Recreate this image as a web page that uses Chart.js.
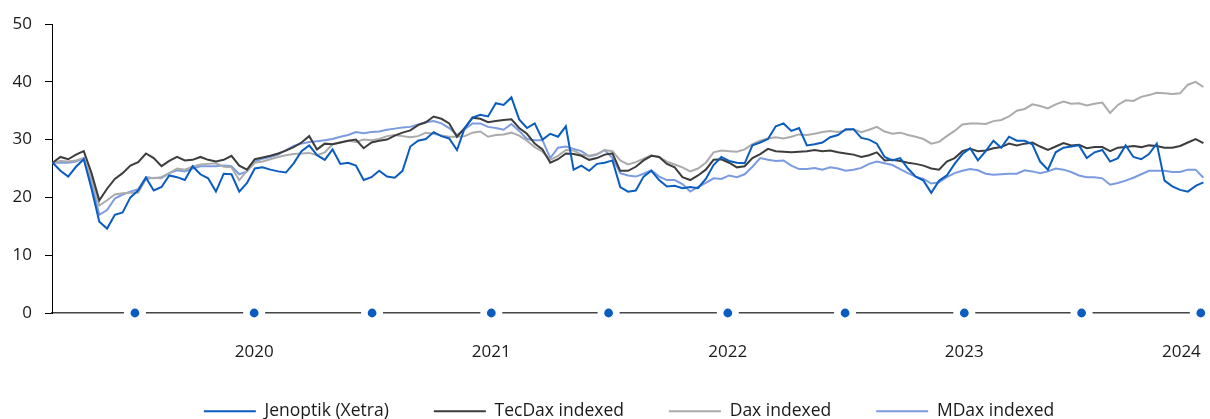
<!DOCTYPE html>
<html>
<head>
<meta charset="utf-8">
<title>Jenoptik vs. indices</title>
<script src="https://cdn.jsdelivr.net/npm/chart.js@4.4.0/dist/chart.umd.min.js"></script>
<style>
  html, body { margin: 0; padding: 0; background: #ffffff; overflow: hidden; }
  #wrap { width: 1210px; height: 419px; overflow: hidden; }
  canvas { display: block; }
</style>
</head>
<body>
<div id="wrap"><canvas id="chart" width="1210" height="430"></canvas></div>
<script>
// Series names as shown in the legend
const seriesNames = ['Jenoptik (Xetra)', 'TecDax indexed', 'Dax indexed', 'MDax indexed'];

// Observations every 12 days, starting 24 Feb 2019
const firstObservation = '2019-02-24';
const stepDays = 12;

// Half-year markers on the time axis (labels on 1 January)
const halfYears = ['2019-07-01', '2020-01-01', '2020-07-01', '2021-01-01', '2021-07-01',
                   '2022-01-01', '2022-07-01', '2023-01-01', '2023-07-01', '2024-01-01'];

const yTicks = [0, 10, 20, 30, 40, 50];

const jenoptik = [
  26.0, 24.6, 23.6, 25.3, 26.6, 21.5, 15.8, 14.6, 17.0, 17.4,
  20.0, 21.2, 23.4, 21.2, 21.8, 23.8, 23.5, 23.0, 25.4, 24.0,
  23.3, 21.0, 24.1, 24.0, 21.0, 22.5, 25.0, 25.2, 24.8, 24.5,
  24.3, 25.9, 28.0, 29.0, 27.3, 26.5, 28.3, 25.8, 26.0, 25.5,
  23.0, 23.5, 24.6, 23.6, 23.4, 24.6, 28.8, 29.8, 30.1, 31.3,
  30.6, 30.2, 28.2, 32.0, 33.8, 34.3, 34.0, 36.3, 36.0, 37.3,
  33.5, 32.0, 32.8, 30.0, 31.0, 30.5, 32.3, 24.8, 25.5, 24.6,
  25.8, 26.0, 26.4, 21.8, 21.0, 21.2, 23.6, 24.6, 23.0, 21.9,
  22.0, 21.6, 21.8, 21.6, 23.2, 25.6, 27.0, 26.3, 26.0, 25.9,
  29.0, 29.5, 30.1, 32.3, 32.8, 31.5, 32.0, 29.0, 29.2, 29.5,
  30.4, 30.8, 31.8, 31.8, 30.3, 30.0, 29.3, 27.0, 26.4, 26.8,
  25.0, 23.6, 22.9, 20.8, 22.9, 23.8, 25.8, 27.5, 28.5, 26.4,
  28.0, 29.8, 28.6, 30.5, 29.8, 29.8, 29.2, 26.2, 24.8, 27.8,
  28.6, 28.8, 29.0, 26.8, 27.8, 28.2, 26.2, 26.8, 29.0, 27.0,
  26.6, 27.5, 29.3, 22.9, 21.9, 21.3, 21.0, 22.0, 22.6
];

const tecDax = [
  26.0, 27.0, 26.6, 27.4, 28.0, 24.2, 19.5, 21.5, 23.2, 24.2,
  25.5, 26.1, 27.6, 26.8, 25.4, 26.3, 27.0, 26.4, 26.5, 27.0,
  26.5, 26.2, 26.5, 27.2, 25.5, 24.8, 26.6, 26.9, 27.2, 27.6,
  28.1, 28.7, 29.5, 30.6, 28.3, 29.3, 29.2, 29.5, 29.8, 30.0,
  28.5, 29.5, 29.8, 30.0, 30.7, 31.2, 31.6, 32.5, 33.0, 34.0,
  33.6, 32.8, 30.5, 32.0, 33.8, 33.6, 33.0, 33.2, 33.4, 33.5,
  32.0, 31.0, 29.3, 28.3, 26.0, 26.6, 27.6, 27.5, 27.2, 26.5,
  26.8, 27.4, 27.6, 24.6, 24.6, 25.3, 26.4, 27.2, 27.0, 25.8,
  25.2, 23.5, 23.0, 23.8, 24.8, 26.5, 26.6, 26.0, 25.2, 25.4,
  26.8, 27.5, 28.4, 28.0, 27.9, 27.8, 27.9, 28.0, 28.2, 28.0,
  28.1, 27.8, 27.6, 27.4, 27.0, 27.3, 27.8, 26.4, 26.5, 26.3,
  26.0, 25.8, 25.5, 25.0, 24.8, 26.2, 26.8, 28.0, 28.4, 28.0,
  28.1, 28.5, 28.7, 29.3, 29.0, 29.3, 29.5, 28.8, 28.2, 28.8,
  29.4, 29.0, 29.1, 28.5, 28.7, 28.7, 28.0, 28.6, 28.7, 28.9,
  28.7, 29.0, 28.9, 28.6, 28.6, 28.9, 29.5, 30.1, 29.4
];

const dax = [
  26.0, 26.3, 26.2, 26.4, 26.8, 23.3, 18.6, 19.5, 20.5, 20.7,
  20.8, 20.8, 23.2, 23.4, 23.3, 24.2, 25.0, 24.8, 25.3, 25.7,
  25.8, 25.9, 25.3, 25.2, 23.0, 24.6, 26.0, 26.2, 26.6, 27.0,
  27.3, 27.5, 27.6, 27.7, 27.3, 27.8, 29.2, 29.5, 29.8, 29.6,
  30.0, 29.9, 30.1, 30.6, 30.8, 30.6, 30.4, 30.6, 31.2, 31.0,
  30.7, 30.5, 30.5, 30.6, 31.2, 31.4, 30.5, 30.8, 30.9, 31.2,
  30.7, 29.8, 28.7, 27.9, 26.5, 27.2, 28.2, 28.1, 27.4, 27.2,
  27.5, 28.2, 28.0, 26.4, 25.7, 26.1, 26.7, 27.3, 27.0, 26.2,
  25.7, 25.2, 24.5, 25.0, 26.0, 27.8, 28.1, 28.0, 27.9, 28.3,
  29.2, 29.8, 30.2, 30.4, 30.2, 30.5, 30.9, 30.8, 31.0, 31.3,
  31.5, 31.3, 31.6, 31.8, 31.3, 31.7, 32.2, 31.4, 31.0, 31.2,
  30.8, 30.5, 30.1, 29.3, 29.6, 30.6, 31.5, 32.6, 32.8, 32.8,
  32.7, 33.2, 33.4, 34.0, 35.0, 35.3, 36.1, 35.8, 35.4, 36.1,
  36.6, 36.2, 36.3, 35.9, 36.2, 36.4, 34.6, 36.0, 36.8, 36.7,
  37.4, 37.7, 38.1, 38.0, 37.9, 38.0, 39.5, 40.0, 39.1
];

const mDax = [
  26.0, 26.0, 26.0, 26.2, 26.8, 22.5, 17.0, 17.8, 19.8, 20.5,
  21.0, 21.4, 23.5, 23.3, 23.5, 24.2, 24.7, 24.5, 25.0, 25.4,
  25.4, 25.4, 25.5, 25.4, 24.0, 24.5, 26.2, 26.7, 27.0, 27.4,
  28.2, 28.9, 29.3, 29.6, 29.7, 29.9, 30.1, 30.5, 30.8, 31.3,
  31.1, 31.3, 31.4, 31.7, 31.9, 32.1, 32.2, 32.6, 33.0, 33.2,
  32.8, 32.0, 30.8, 31.8, 32.8, 32.8, 32.2, 32.0, 31.7, 32.7,
  31.5, 30.1, 29.9, 29.9, 26.8, 28.6, 28.8, 28.4, 28.0, 27.1,
  27.4, 28.2, 26.8, 24.2, 23.8, 23.6, 24.1, 24.7, 23.6, 23.0,
  23.0, 22.3, 21.0, 21.8, 22.5, 23.3, 23.2, 23.8, 23.5, 24.0,
  25.3, 26.8, 26.5, 26.3, 26.4, 25.5, 24.9, 24.9, 25.1, 24.8,
  25.2, 25.0, 24.6, 24.8, 25.1, 25.8, 26.2, 25.9, 25.6, 24.9,
  24.2, 23.6, 23.2, 22.4, 22.6, 23.5, 24.2, 24.6, 24.9, 24.7,
  24.1, 23.9, 24.0, 24.1, 24.1, 24.7, 24.5, 24.2, 24.5, 25.0,
  24.8, 24.4, 23.8, 23.5, 23.5, 23.3, 22.2, 22.5, 22.9, 23.4,
  24.0, 24.6, 24.6, 24.6, 24.4, 24.4, 24.8, 24.8, 23.4
];

const DAY = 86400000;
const t0 = Date.parse(firstObservation + 'T00:00:00Z');
const dates = jenoptik.map((_, i) => t0 + i * stepDays * DAY);
const markerTimes = halfYears.map(d => Date.parse(d + 'T00:00:00Z'));
const toPoints = values => values.map((v, i) => ({ x: dates[i], y: v }));

const FONT = '"Open Sans", "Noto Sans", "DejaVu Sans", sans-serif';
const TEXT = '#1a1a1a';
const BLUE = '#0a5dbf';

const lineStyle = (label, values, color, order, width) => ({
  label, data: toPoints(values), borderColor: color, backgroundColor: color,
  borderWidth: width, pointRadius: 0, pointHoverRadius: 0, tension: 0, order
});

new Chart(document.getElementById('chart'), {
  type: 'line',
  data: {
    datasets: [
      lineStyle(seriesNames[0], jenoptik, BLUE, 1, 2),
      lineStyle(seriesNames[1], tecDax, '#3d3d3d', 2, 2),
      lineStyle(seriesNames[2], dax, '#ababab', 3, 2),
      lineStyle(seriesNames[3], mDax, '#7b9be0', 4, 2),
      {
        label: 'half-year markers', type: 'scatter',
        data: markerTimes.map(t => ({ x: t, y: 0 })),
        pointRadius: 7.7, pointHoverRadius: 7.7,
        pointBackgroundColor: BLUE, pointBorderColor: '#ffffff', pointBorderWidth: 6.6,
        showLine: false, clip: false, order: 0
      }
    ]
  },
  options: {
    responsive: false,
    animation: false,
    devicePixelRatio: 1,
    events: [],
    layout: { autoPadding: false, padding: { top: 24, right: 4, left: 0, bottom: 0 } },
    plugins: {
      tooltip: { enabled: false },
      legend: {
        position: 'bottom',
        fullSize: false,
        labels: {
          filter: item => item.datasetIndex < 4,
          boxWidth: 52, boxHeight: 0, padding: 45,
          color: TEXT, font: { family: FONT, size: 17.5 }
        }
      }
    },
    scales: {
      x: {
        type: 'linear',
        min: Date.parse('2019-02-23T00:00:00Z'),
        max: Date.parse('2024-01-09T00:00:00Z'),
        grid: { display: false, drawTicks: false },
        border: { display: true, color: '#454545', width: 1.6 },
        afterBuildTicks: scale => { scale.ticks = markerTimes.map(v => ({ value: v })); },
        ticks: {
          align: 'inner', padding: 29, autoSkip: false, maxRotation: 0,
          color: TEXT, font: { family: FONT, size: 17 },
          callback: v => { const d = new Date(v); return d.getUTCMonth() === 0 ? String(d.getUTCFullYear()) : ''; }
        },
        afterFit: scale => { scale.height = 44.5; scale.paddingLeft = 0; scale.paddingRight = 0; }
      },
      y: {
        min: yTicks[0], max: yTicks[yTicks.length - 1],
        afterBuildTicks: scale => { scale.ticks = yTicks.map(v => ({ value: v })); },
        grid: { drawOnChartArea: false, drawTicks: true, tickLength: 7, color: '#000000', lineWidth: 1 },
        border: { display: true, color: '#000000', width: 1 },
        ticks: { padding: 13, color: TEXT, font: { family: FONT, size: 17 } },
        afterFit: scale => { scale.width = 52; scale.paddingTop = 0; scale.paddingBottom = 0; }
      }
    }
  }
});
</script>
</body>
</html>
